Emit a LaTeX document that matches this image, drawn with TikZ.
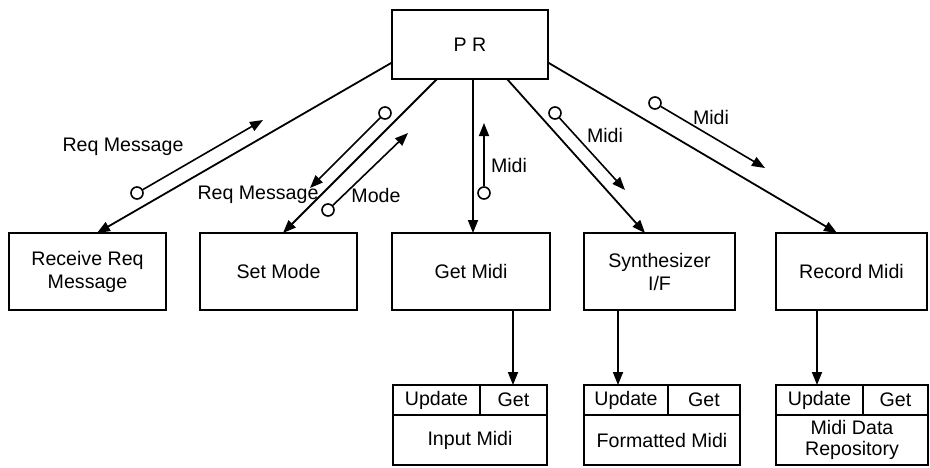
\documentclass[tikz,border=0pt]{standalone}
\usepackage{fontspec}
\setmainfont{Liberation Sans}
\usetikzlibrary{arrows.meta}

\begin{document}
\begin{tikzpicture}[x=1pt,y=-1pt,
    every node/.style={font=\fontsize{19.6}{23}\selectfont},
    proc/.style={draw,rectangle,line width=2.1pt,minimum height=77pt,align=center,inner sep=0pt,outer sep=0pt},
    cell/.style={draw,rectangle,line width=1.8pt,align=center,inner sep=0pt,outer sep=0pt},
    flow/.style={-{Triangle[length=13pt,width=10pt]},line width=1.8pt},
    msg/.style={-{Triangle[length=13pt,width=10pt]},line width=1.6pt},
    tail/.style={draw,circle,minimum size=12pt,inner sep=0pt,line width=1.6pt}]
      \useasboundingbox (0,0) rectangle (930,467);

      % top process and its children
      \node[proc,minimum width=156pt,minimum height=69pt] (pr) at (470,44.5){P R};
      \node[proc,minimum width=157pt] (recv) at (87.5,271.5){Receive Req\\Message};
      \node[proc,minimum width=157pt] (setm) at (278.5,271.5){Set Mode};
      \node[proc,minimum width=158pt] (getm) at (471,271.5){Get Midi};
      \node[proc,minimum width=151pt] (synth) at (659.5,271.5){Synthesizer\\I/F};
      \node[proc,minimum width=151pt] (rec) at (851.5,271.5){Record Midi};

      % data stores
      \node[cell,minimum width=87pt,minimum height=30pt] (inupd) at (436.5,400){Update};
      \node[cell,minimum width=67pt,minimum height=30pt] (inget) at (513.5,400){Get};
      \node[cell,minimum width=154pt,minimum height=50pt] (inbody) at (470,440){Input Midi};

      \node[cell,minimum width=84pt,minimum height=30pt] (fmupd) at (626,400){Update};
      \node[cell,minimum width=72pt,minimum height=30pt] (fmget) at (704,400){Get};
      \node[cell,minimum width=156pt,minimum height=50pt] (fmbody) at (662,440){Formatted Midi};

      \node[cell,minimum width=87pt,minimum height=30pt] (mdupd) at (819.5,400){Update};
      \node[cell,minimum width=65pt,minimum height=30pt] (mdget) at (895.5,400){Get};
      \node[cell,minimum width=152pt,minimum height=50pt,font=\fontsize{19.6}{20.5}\selectfont] (mdbody) at (852,440){Midi Data\\Repository};

      \draw[flow] (pr.193) -- ([xshift=9.5pt]recv.north);
      \draw[flow] ([xshift=-33pt]pr.south) -- ([xshift=4.5pt]setm.north);
      \draw[flow] ([xshift=3pt]pr.south) -- ([xshift=2pt]getm.north);
      \draw[flow] ([xshift=37pt]pr.south) -- ([xshift=-14.5pt]synth.north);
      \draw[flow] (pr.347) -- ([xshift=-14.5pt]rec.north);

      \draw[flow] ([xshift=42pt]getm.south) -- ([xshift=-0.5pt]inget.north);
      \draw[flow] ([xshift=-41.5pt]synth.south) -- ([xshift=-8pt]fmupd.north);
      \draw[flow] ([xshift=-34.5pt]rec.south) -- ([xshift=-2.5pt]mdupd.north);

      % messages
      \node[tail] (c1) at (137,193){};
      \coordinate (t1) at (263,120);
      \node (l1) at (123,147){Req Message};
      \node[tail] (c2) at (385,113){};
      \coordinate (t2) at (310,188);
      \node (l2) at (258,195){Req Message};
      \node[tail] (c3) at (328,210){};
      \coordinate (t3) at (408,133);
      \node (l3) at (376,195){Mode};
      \node[tail] (c4) at (484,193){};
      \coordinate (t4) at (484,123);
      \node (l4) at (509,165){Midi};
      \node[tail] (c5) at (555,113){};
      \coordinate (t5) at (625,190);
      \node (l5) at (605,135){Midi};
      \node[tail] (c6) at (655,103){};
      \coordinate (t6) at (765,168);
      \node (l6) at (711,117){Midi};

      \foreach \i in {1,...,6}
        \draw[msg] (c\i) -- (t\i);
\end{tikzpicture}
\end{document}
